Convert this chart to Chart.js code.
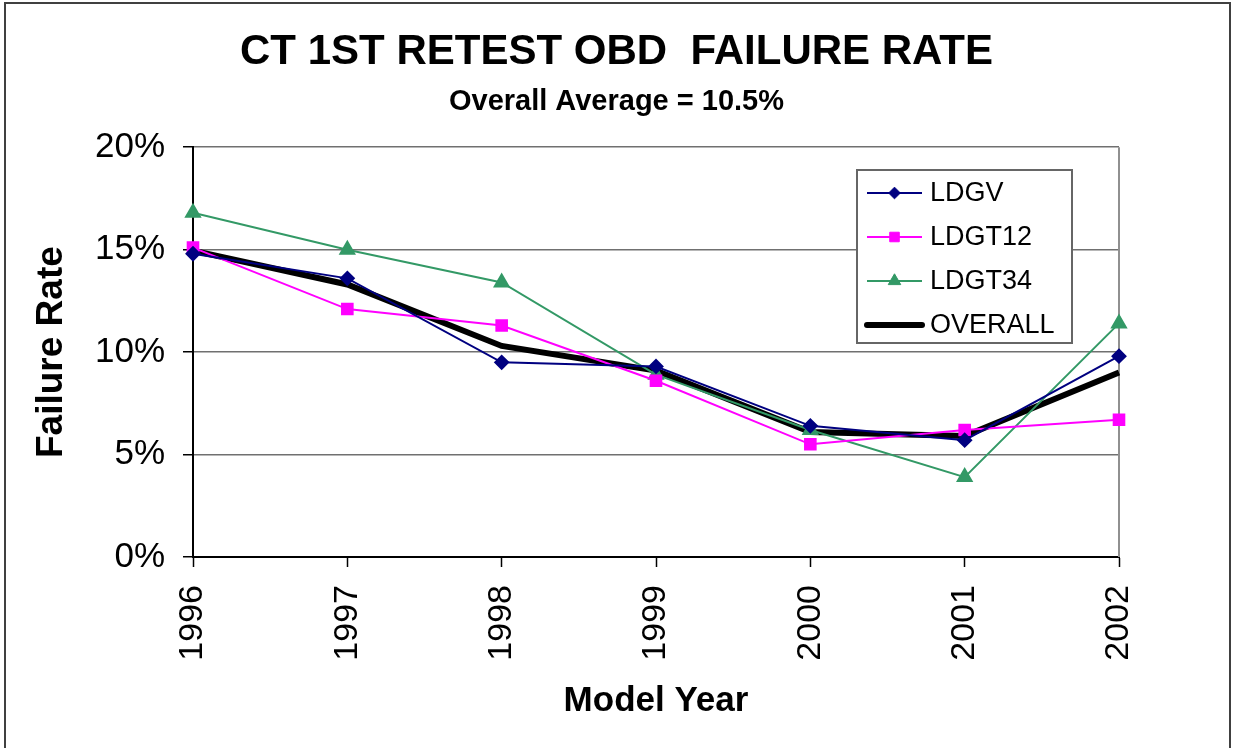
<!DOCTYPE html>
<html>
<head>
<meta charset="utf-8">
<title>CT 1st Retest OBD Failure Rate</title>
<script src="https://cdn.jsdelivr.net/npm/chart.js@4/dist/chart.umd.min.js"></script>
<style>
  html, body { margin: 0; padding: 0; background: #ffffff; }
  canvas { display: block; }
</style>
</head>
<body>
<canvas id="chart" width="1233" height="748"></canvas>
<script>
// Values (percent)
const years = ['1996', '1997', '1998', '1999', '2000', '2001', '2002'];
const ldgv = [14.8, 13.6, 9.5, 9.3, 6.4, 5.7, 9.8];
const ldgt12 = [15.1, 12.1, 11.3, 8.6, 5.5, 6.2, 6.7];
const ldgt34 = [16.8, 15.0, 13.4, 8.9, 6.2, 3.9, 11.4];
const overall = [14.95, 13.3, 10.3, 9.1, 6.1, 5.9, 9.0];
const yTicks = [0, 5, 10, 15, 20];

const FONT = '"Liberation Sans", Arial, sans-serif';

// Draws the outer frame, the plot border and the boxed legend
const framePlugin = {
  id: 'frame',
  beforeDatasetsDraw(chart) {
    const { ctx, chartArea } = chart;
    ctx.save();
    ctx.strokeStyle = '#909090';
    ctx.lineWidth = 2;
    ctx.beginPath();
    ctx.moveTo(chartArea.right, chartArea.top);
    ctx.lineTo(chartArea.right, chartArea.bottom);
    ctx.stroke();
    ctx.restore();
  },
  afterDraw(chart, args, opts) {
    const { ctx } = chart;
    ctx.save();
    // outer chart frame
    ctx.strokeStyle = '#404040';
    ctx.lineWidth = 2;
    ctx.strokeRect(5, 3, 1225, 800);

    // legend box
    const box = opts.box;
    ctx.fillStyle = '#ffffff';
    ctx.fillRect(box.x, box.y, box.w, box.h);
    ctx.strokeStyle = '#666666';
    ctx.lineWidth = 2;
    ctx.strokeRect(box.x, box.y, box.w, box.h);

    ctx.font = '27px ' + FONT;
    ctx.textBaseline = 'middle';
    ctx.textAlign = 'left';
    chart.data.datasets.forEach((ds, i) => {
      const y = box.y + 23 + i * 44;
      const x0 = box.x + 10, x1 = box.x + 65;
      ctx.strokeStyle = ds.borderColor;
      ctx.lineWidth = ds.borderWidth;
      ctx.lineCap = ds.borderWidth > 3 ? 'round' : 'butt';
      ctx.beginPath();
      ctx.moveTo(x0, y);
      ctx.lineTo(x1, y);
      ctx.stroke();
      if (ds.pointRadius > 0) {
        ctx.fillStyle = ds.pointBackgroundColor;
        ctx.strokeStyle = ds.pointBorderColor;
        ctx.lineWidth = 1;
        Chart.helpers.drawPoint(ctx, {
          pointStyle: ds.pointStyle,
          radius: ds.pointRadius * 0.9,
          borderWidth: 1,
          rotation: 0
        }, (x0 + x1) / 2, y);
      }
      ctx.fillStyle = '#000000';
      ctx.fillText(ds.label, box.x + 73, y + 1);
    });
    ctx.restore();
  }
};

new Chart(document.getElementById('chart'), {
  type: 'line',
  data: {
    labels: years,
    datasets: [
      {
        label: 'LDGV',
        data: ldgv,
        borderColor: '#000080',
        borderWidth: 2,
        pointStyle: 'rectRot',
        pointRadius: 6.5,
        pointBackgroundColor: '#000080',
        pointBorderColor: '#000080',
        order: 1
      },
      {
        label: 'LDGT12',
        data: ldgt12,
        borderColor: '#ff00ff',
        borderWidth: 2,
        pointStyle: 'rect',
        pointRadius: 7.5,
        pointBackgroundColor: '#ff00ff',
        pointBorderColor: '#ff00ff',
        order: 2
      },
      {
        label: 'LDGT34',
        data: ldgt34,
        borderColor: '#339966',
        borderWidth: 2,
        pointStyle: 'triangle',
        pointRadius: 8,
        pointBackgroundColor: '#339966',
        pointBorderColor: '#339966',
        order: 3
      },
      {
        label: 'OVERALL',
        data: overall,
        borderColor: '#000000',
        borderWidth: 6,
        pointRadius: 0,
        order: 4
      }
    ]
  },
  options: {
    responsive: false,
    animation: false,
    events: [],
    datasets: { line: { clip: false, tension: 0 } },
    layout: { padding: 0 },
    plugins: {
      legend: { display: false },
      tooltip: { enabled: false },
      title: {
        display: true,
        text: 'CT 1ST RETEST OBD  FAILURE RATE',
        color: '#000000',
        font: { family: FONT, size: 42, weight: 'bold', lineHeight: 1.2 },
        padding: { top: 27, bottom: 0 }
      },
      subtitle: {
        display: true,
        text: 'Overall Average = 10.5%',
        color: '#000000',
        font: { family: FONT, size: 29, weight: 'bold', lineHeight: 1.2 },
        padding: { top: 7, bottom: 28 }
      },
      frame: { box: { x: 857, y: 170, w: 215, h: 173 } }
    },
    scales: {
      x: {
        offset: false,
        afterFit: s => { s.height = 191; },
        grid: {
          drawOnChartArea: false,
          drawTicks: true,
          tickLength: 10,
          tickColor: '#000000',
          tickWidth: 1.5
        },
        border: { display: true, color: '#000000', width: 2 },
        ticks: {
          color: '#000000',
          font: { family: FONT, size: 34 },
          minRotation: 90,
          maxRotation: 90,
          padding: 18,
          autoSkip: false
        },
        title: {
          display: true,
          text: 'Model Year',
          color: '#000000',
          font: { family: FONT, size: 35, weight: 'bold', lineHeight: 1.2 },
          padding: { top: 0, bottom: 26 }
        }
      },
      y: {
        min: 0,
        max: 20,
        afterFit: s => { s.width = 193; },
        afterBuildTicks: s => { s.ticks = yTicks.map(v => ({ value: v })); },
        grid: {
          color: '#707070',
          lineWidth: 1.5,
          drawTicks: true,
          tickLength: 10,
          tickColor: '#000000',
          tickWidth: 1.5
        },
        border: { display: true, color: '#000000', width: 2 },
        ticks: {
          color: '#000000',
          font: { family: FONT, size: 35 },
          padding: 18,
          callback: v => v + '%'
        },
        title: {
          display: true,
          text: 'Failure Rate',
          color: '#000000',
          font: { family: FONT, size: 37, weight: 'bold', lineHeight: 1.2 },
          padding: { top: 30, bottom: 0 }
        }
      },
      // empty right-hand strip so the plot ends where the reference's does
      // while the titles stay centred on the whole canvas
      yRight: {
        position: 'right',
        min: 0,
        max: 20,
        afterFit: s => { s.width = 114; },
        grid: { display: false },
        border: { display: false },
        ticks: { display: false }
      }
    }
  },
  plugins: [framePlugin]
});
</script>
</body>
</html>
